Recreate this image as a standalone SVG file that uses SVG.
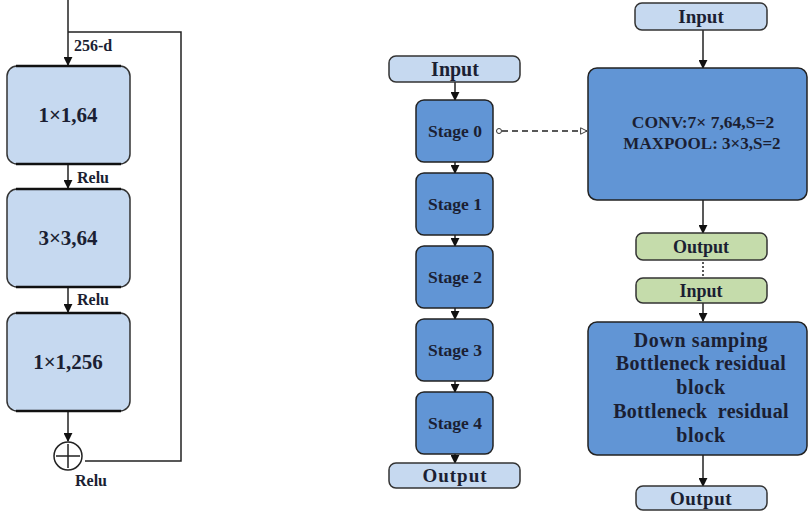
<svg xmlns="http://www.w3.org/2000/svg" width="809" height="511" viewBox="0 0 809 511">
<defs>
<marker id="ah" viewBox="0 0 10 10" refX="9" refY="5" markerWidth="9" markerHeight="9" markerUnits="userSpaceOnUse" orient="auto"><path d="M0,0 L10,5 L0,10 z" fill="#111"/></marker>
<marker id="oh" viewBox="0 0 10 10" refX="9" refY="5" markerWidth="8" markerHeight="8" markerUnits="userSpaceOnUse" orient="auto"><path d="M1,1 L9,5 L1,9 z" fill="#fff" stroke="#333" stroke-width="1.2"/></marker>
</defs>
<style>
.t{font-family:"Liberation Serif","Times New Roman",serif;font-weight:bold;fill:#1b1f33;text-anchor:middle}
.lb{fill:#c6d9f0;stroke:#333;stroke-width:1.5}
.db{fill:#6195d5;stroke:#222;stroke-width:1.5}
.gr{fill:#c5dcab;stroke:#333;stroke-width:1.5}
.ln{stroke:#222;stroke-width:1.5;fill:none}
.edge{stroke:#111;stroke-width:2.5;fill:none}
</style>
<rect width="809" height="511" fill="#fff"/>
<g id="connectors">
<path class="ln" d="M68,0 V65" marker-end="url(#ah)"/>
<path class="ln" d="M68,32 H181 V461 H85"/>
<path class="ln" d="M68,164 V188" marker-end="url(#ah)"/>
<path class="ln" d="M68,287 V312" marker-end="url(#ah)"/>
<path class="ln" d="M68,411 V441" marker-end="url(#ah)"/>
<path class="ln" d="M455,82 V100" marker-end="url(#ah)"/>
<path class="ln" d="M455,162 V173" marker-end="url(#ah)"/>
<path class="ln" d="M455,235 V246" marker-end="url(#ah)"/>
<path class="ln" d="M455,308 V319" marker-end="url(#ah)"/>
<path class="ln" d="M455,381 V392" marker-end="url(#ah)"/>
<path class="ln" d="M455,454 V463" marker-end="url(#ah)"/>
<circle cx="499" cy="131" r="2.5" fill="#fff" stroke="#333" stroke-width="1"/>
<path class="ln" d="M502,131 H587" stroke-dasharray="6,4" marker-end="url(#oh)"/>
<path class="ln" d="M703,30 V68" marker-end="url(#ah)"/>
<path class="ln" d="M703,200 V233" marker-end="url(#ah)"/>
<path class="ln" d="M703,262 V277" stroke-dasharray="2,2" stroke-width="2"/>
<path class="ln" d="M703,303 V321" marker-end="url(#ah)"/>
<path class="ln" d="M703,455 V486" marker-end="url(#ah)"/>
</g>
<g id="box1"><rect class="lb" x="7" y="66" width="123" height="98" rx="10"/><path class="edge" d="M16,66 H121 M16,164 H121"/><text class="t" x="68" y="122" font-size="21">1×1,64</text></g>
<g id="relu1"><text class="t" x="93" y="183" font-size="16">Relu</text></g>
<g id="label256"><text class="t" x="93" y="51" font-size="16">256-d</text></g>
<g id="box2"><rect class="lb" x="7" y="189" width="123" height="98" rx="10"/><path class="edge" d="M16,189 H121 M16,287 H121"/><text class="t" x="68" y="245" font-size="21">3×3,64</text></g>
<g id="relu2"><text class="t" x="93" y="305" font-size="16">Relu</text></g>
<g id="box3"><rect class="lb" x="7" y="313" width="123" height="98" rx="10"/><path class="edge" d="M16,313 H121 M16,411 H121"/><text class="t" x="68" y="369" font-size="21">1×1,256</text></g>
<g id="sum"><circle cx="68" cy="456" r="14" fill="#fff" stroke="#222" stroke-width="1.5"/><path class="ln" d="M56,456 H80 M68,444 V468"/><text class="t" x="91" y="486" font-size="16">Relu</text></g>
<g id="inputM"><rect class="lb" x="389" y="56" width="131" height="26" rx="7"/><text class="t" x="455" y="76" font-size="20">Input</text></g>
<g id="stage0"><rect class="db" x="416" y="100" width="77" height="62" rx="8"/><text class="t" x="455" y="137" font-size="17.5">Stage 0</text></g>
<g id="stage1"><rect class="db" x="416" y="173" width="77" height="62" rx="8"/><text class="t" x="455" y="210" font-size="17.5">Stage 1</text></g>
<g id="stage2"><rect class="db" x="416" y="246" width="77" height="62" rx="8"/><text class="t" x="455" y="283" font-size="17.5">Stage 2</text></g>
<g id="stage3"><rect class="db" x="416" y="319" width="77" height="62" rx="8"/><text class="t" x="455" y="356" font-size="17.5">Stage 3</text></g>
<g id="stage4"><rect class="db" x="416" y="392" width="77" height="62" rx="8"/><text class="t" x="455" y="429" font-size="17.5">Stage 4</text></g>
<g id="outputM"><rect class="lb" x="389" y="463" width="131" height="25" rx="7"/><text class="t" x="455" y="482" font-size="19" letter-spacing="1">Output</text></g>
<g id="inputR"><rect class="lb" x="635" y="3" width="132" height="27" rx="7"/><text class="t" x="701" y="23" font-size="19">Input</text></g>
<g id="conv"><rect class="db" x="588" y="68" width="219" height="132" rx="9"/><text class="t" x="703" y="128" font-size="17.5">CONV:7× 7,64,S=2</text><text class="t" x="702" y="149" font-size="17">MAXPOOL: 3×3,S=2</text></g>
<g id="outG"><rect class="gr" x="636" y="233" width="131" height="27" rx="7"/><text class="t" x="701" y="253" font-size="18">Output</text></g>
<g id="inG"><rect class="gr" x="636" y="278" width="131" height="25" rx="7"/><text class="t" x="701" y="297" font-size="18">Input</text></g>
<g id="bottleneck"><rect class="db" x="588" y="322" width="219" height="133" rx="9"/>
<text class="t" x="701" y="347" font-size="20" letter-spacing="0.6">Down samping</text>
<text class="t" x="701" y="370" font-size="20" letter-spacing="0.3">Bottleneck residual</text>
<text class="t" x="701" y="394" font-size="20" letter-spacing="0.6">block</text>
<text class="t" x="701" y="418" font-size="20" letter-spacing="0.3" xml:space="preserve">Bottleneck  residual</text>
<text class="t" x="701" y="442" font-size="20" letter-spacing="0.6">block</text></g>
<g id="outputR"><rect class="lb" x="636" y="486" width="131" height="24" rx="7"/><text class="t" x="701" y="505" font-size="19" letter-spacing="0.5">Output</text></g>
</svg>
